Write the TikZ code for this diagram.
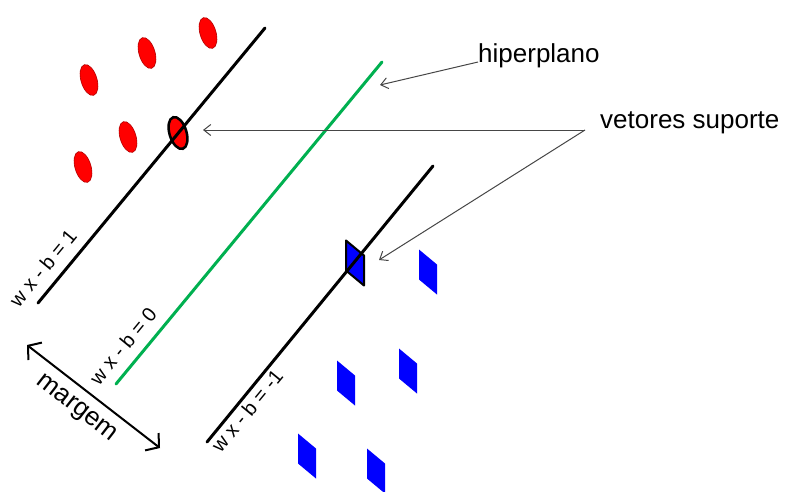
\documentclass[tikz,border=0pt]{standalone}
\usepackage{fontspec}
\setmainfont{Liberation Sans}
\usetikzlibrary{arrows.meta,shapes.geometric,calc}
\definecolor{hgreen}{RGB}{0,176,80}
\definecolor{leadgray}{RGB}{70,70,70}
\begin{document}
\begin{tikzpicture}[x=1pt,y=-1pt,
  redpt/.style={ellipse, fill=red, draw=red!70!black, line width=0.6pt, minimum width=16pt, minimum height=32pt, inner sep=0pt, rotate=17},
  redsv/.style={redpt, draw=black, line width=2.5pt, minimum width=17pt, minimum height=33pt},
  plane/.style={line width=3pt, line cap=round},
  lead/.style={draw=leadgray, line width=1pt, -{Straight Barb[length=7pt,width=11pt]}},
  eqlabel/.style={font=\fontsize{20}{24}\selectfont, rotate=50.5, inner sep=0pt},
  bigtext/.style={font=\fontsize{26}{30}\selectfont, inner sep=0pt, anchor=base west},
  bluept/.pic={\fill[blue] (-9,-22.5) -- (-9,7.5) -- (9,22.5) -- (9,-7.5) -- cycle;},
  bluesv/.pic={\filldraw[fill=blue, draw=black, line width=2pt, line join=round] (-9,-22.5) -- (-9,7.5) -- (9,22.5) -- (9,-7.5) -- cycle;},
]
\useasboundingbox (0,0) rectangle (785,491);

% red class
\node[redpt] (r1) at (89,80) {};
\node[redpt] (r2) at (147,53) {};
\node[redpt] (r3) at (208,33) {};
\node[redpt] (r4) at (128,137) {};
\node[redpt] (r5) at (83,167) {};
\node[redsv] (rs) at (178,133) {};

% blue class
\coordinate (b1) at (428,272);
\coordinate (b2) at (346,383);
\coordinate (b3) at (408,371);
\coordinate (b4) at (307,456);
\coordinate (b5) at (376,471);
\coordinate (bs) at (355,263);
\pic at (b1) {bluept};
\pic at (b2) {bluept};
\pic at (b3) {bluept};
\pic at (b4) {bluept};
\pic at (b5) {bluept};
\pic at (bs) {bluesv};

% hyperplanes
\coordinate (p1a) at (38,303);
\coordinate (p1b) at (265,28);
\coordinate (p0a) at (116,384);
\coordinate (p0b) at (382,62);
\coordinate (p2a) at (207,442);
\coordinate (p2b) at (433,166);
\draw[plane] (p1a) -- (p1b);
\draw[plane, draw=hgreen] (p0a) -- (p0b);
\draw[plane] (p2a) -- (p2b);

\node[eqlabel] (l1) at (43,268) {w x - b = 1};
\node[eqlabel] (l0) at (123,346) {w x - b = 0};
\node[eqlabel] (l2) at (247,411) {w x - b = -1};

% margin
\coordinate (mA) at (27,345);
\coordinate (mB) at (160,448);
\draw[line width=2pt, {Straight Barb[length=9pt,width=22pt]}-{Straight Barb[length=9pt,width=22pt]}] (mA) -- (mB);
\node[font=\fontsize{26}{30}\selectfont, rotate=-37.8, inner sep=0pt] (mg) at (76,409) {margem};

% annotations
\node[bigtext] (hip) at (478,62) {hiperplano};
\node[bigtext] (vet) at (600,128) {vetores suporte};
\coordinate (hipT) at (380,85);
\coordinate (vsO) at (585,130);
\coordinate (tipR) at (203,130);
\coordinate (tipB) at (379,260);
\draw[lead] (hip.base west) -- (hipT);
\draw[lead] (vsO) -- (tipR);
\draw[lead] (vsO) -- (tipB);
\end{tikzpicture}
\end{document}
